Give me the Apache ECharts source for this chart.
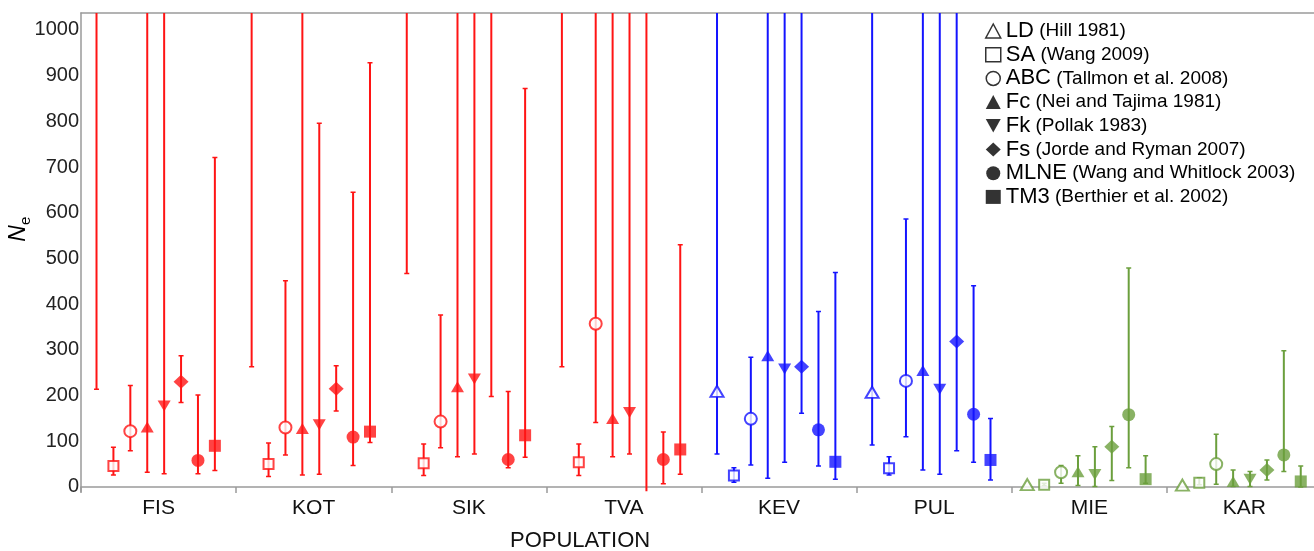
<!DOCTYPE html>
<html>
<head>
<meta charset="utf-8">
<script src="https://cdn.jsdelivr.net/npm/echarts@6/dist/echarts.min.js"></script>
<style>
html,body{margin:0;padding:0;background:#fff;}
#chart{width:1314px;height:551px;}
</style>
</head>
<body>
<div id="chart"></div>
<script>
// ---------- data ----------
const populations = ['FIS', 'KOT', 'SIK', 'TVA', 'KEV', 'PUL', 'MIE', 'KAR'];
const estimators = ['LD', 'SA', 'ABC', 'Fc', 'Fk', 'Fs', 'MLNE', 'TM3'];
const references = ['(Hill 1981)', '(Wang 2009)', '(Tallmon et al. 2008)', '(Nei and Tajima 1981)',
  '(Pollak 1983)', '(Jorde and Ryman 2007)', '(Wang and Whitlock 2003)', '(Berthier et al. 2002)'];
const yTickLabels = [0, 100, 200, 300, 400, 500, 600, 700, 800, 900, 1000];
const OPEN = Infinity; // unbounded confidence limit

// point estimates (one per population), null = not estimable (infinite)
const neLD   = [null, null, null, null, 209, 207, 5, 4];
const neSA   = [46, 50, 52, 54, 25, 41, 5, 9];
const neABC  = [122, 130, 143, 357, 149, 232, 32, 50];
const neFc   = [131, 128, 219, 150, 287, 255, 33, 12];
const neFk   = [177, 136, 236, 163, 258, 214, 27, 17];
const neFs   = [230, 215, null, null, 263, 318, 88, 37];
const neMLNE = [58, 109, 60, 60, 125, 159, 158, 70];
const neTM3  = [90, 121, 113, 82, 55, 59, 17, 12];

// lower 95% CI
const loLD   = [214, 263, 467, 263, 72, 92, null, null];
const loSA   = [26, 23, 25, 25, 10, 26, 3, 5];
const loABC  = [79, 70, 86, 141, 48, 110, 8, 6];
const loFc   = [32, 26, 66, 66, 19, 37, 3, 1];
const loFk   = [29, 28, 72, 72, 54, 28, 1, 1];
const loFs   = [185, 166, 198, -OPEN, 161, 79, 14, 15];
const loMLNE = [29, 47, 42, 7, 46, 54, 42, 34];
const loTM3  = [36, 97, 65, 28, 17, 15, 8, 0];

// upper 95% CI
const hiLD   = [OPEN, OPEN, OPEN, OPEN, OPEN, OPEN, null, null];
const hiSA   = [87, 96, 94, 94, 42, 66, 8, 20];
const hiABC  = [222, 451, 376, OPEN, 284, 586, 47, 115];
const hiFc   = [OPEN, OPEN, OPEN, OPEN, OPEN, OPEN, 68, 37];
const hiFk   = [OPEN, 796, OPEN, OPEN, OPEN, OPEN, 88, 34];
const hiFs   = [287, 265, OPEN, OPEN, OPEN, OPEN, 132, 59];
const hiMLNE = [201, 645, 209, 120, 384, 440, 479, 298];
const hiTM3  = [721, 928, 872, 530, 469, 150, 68, 46];

// ---------- styling / layout ----------
const Y_MIN = -10, Y_MAX = 1037;
const FONT = 'Liberation Sans, Arial, sans-serif';
const groupColor = ['#ff1414', '#ff1414', '#ff1414', '#ff1414', '#1414ff', '#1414ff', '#6b9f3d', '#6b9f3d'];
const slotOffset = k => 0.1 + 0.109 * k;
const ne = [neLD, neSA, neABC, neFc, neFk, neFs, neMLNE, neTM3];
const lo = [loLD, loSA, loABC, loFc, loFk, loFs, loMLNE, loTM3];
const hi = [hiLD, hiSA, hiABC, hiFc, hiFk, hiFs, hiMLNE, hiTM3];
const hollow = [true, true, true, false, false, false, false, false];
const symbols = ['triangle', 'rect', 'circle', 'triangle', 'triangle', 'diamond', 'circle', 'rect'];
const rotates = [0, 0, 0, 0, 180, 0, 0, 0];
const sizes = [[13, 11], [10, 10], [12, 12], [13, 11], [13, 11], [15, 14], [13, 13], [12, 12]];
const legendIcons = ['triangle', 'rect', 'circle', 'triangle', 'path://M0,0 L10,0 L5,9 Z', 'diamond', 'circle', 'rect'];

// error-bar data
const barData = [];
estimators.forEach((e, k) => {
  populations.forEach((p, g) => {
    const l = lo[k][g], h = hi[k][g];
    if (l === null || h === null) return;
    const x = g + slotOffset(k);
    barData.push([x,
      isFinite(l) ? l : Y_MIN,
      isFinite(h) ? h : Y_MAX,
      g,
      isFinite(l) ? 1 : 0,
      isFinite(h) ? 1 : 0]);
  });
});

const scatterSeries = estimators.map((e, k) => ({
  name: e,
  type: 'scatter',
  xAxisIndex: 1,
  z: 3,
  symbol: symbols[k],
  symbolRotate: rotates[k],
  symbolSize: sizes[k],
  data: populations.map((p, g) => {
    const v = ne[k][g];
    if (v === null) return null;
    const c = groupColor[g];
    return {
      value: [g + slotOffset(k), v],
      itemStyle: hollow[k]
        ? { color: '#ffffff', borderColor: c, borderWidth: 2 }
        : { color: c, borderWidth: 0 }
    };
  }).filter(d => d !== null)
}));

const chart = echarts.init(document.getElementById('chart'), null, { renderer: 'canvas' });
chart.setOption({
  animation: false,
  backgroundColor: '#ffffff',
  title: {
    text: 'POPULATION', left: 510, top: 530, padding: 0,
    textStyle: { fontSize: 22, fontWeight: 'normal', color: '#111', fontFamily: FONT }
  },
  grid: { left: 81, right: -8, top: 13, bottom: 59.5, containLabel: false, outerBoundsMode: 'none' },
  legend: {
    orient: 'vertical', left: 985, top: 20, padding: 0,
    itemWidth: 15, itemHeight: 14, itemGap: 1.7,
    selectedMode: false,
    data: estimators.map((e, k) => ({
      name: e,
      icon: legendIcons[k],
      itemStyle: hollow[k]
        ? { color: '#ffffff', borderColor: '#000', borderWidth: 1.5 }
        : { color: '#000', borderWidth: 0 }
    })),
    formatter: name => '{a|' + name + '} {b|' + references[estimators.indexOf(name)] + '}',
    textStyle: {
      fontFamily: FONT, fontSize: 19, color: '#000',
      rich: {
        a: { fontSize: 22, fontFamily: FONT, color: '#000', lineHeight: 22 },
        b: { fontSize: 19, fontFamily: FONT, color: '#000', lineHeight: 22 }
      }
    }
  },
  xAxis: [
    {
      type: 'category', data: populations, position: 'bottom',
      axisLine: { show: true, lineStyle: { color: '#9a9a9a', width: 1.5 } },
      axisTick: { show: true, length: 6, lineStyle: { color: '#9a9a9a', width: 1.5 } },
      axisLabel: { fontSize: 21, color: '#111', fontFamily: FONT, margin: 6 },
      splitLine: { show: false }
    },
    {
      type: 'value', min: 0, max: populations.length, position: 'top',
      axisLine: { show: true, onZero: false, lineStyle: { color: '#9a9a9a', width: 1.5 } },
      axisTick: { show: false }, axisLabel: { show: false }, splitLine: { show: false }
    }
  ],
  yAxis: {
    type: 'value', min: Y_MIN, max: Y_MAX,
    name: '{n|N}{e|e}', nameLocation: 'middle', nameGap: 48, nameRotate: 90,
    nameMoveOverlap: false,
    nameTextStyle: {
      padding: [0, 0, 0, 46],
      rich: {
        n: { fontSize: 23, fontStyle: 'italic', color: '#000', fontFamily: FONT, lineHeight: 28, verticalAlign: 'middle' },
        e: { fontSize: 15, color: '#000', fontFamily: FONT, lineHeight: 28, verticalAlign: 'bottom' }
      }
    },
    axisLine: { show: true, onZero: false, lineStyle: { color: '#9a9a9a', width: 1.5 } },
    axisTick: { show: false },
    axisLabel: { customValues: yTickLabels, formatter: v => String(v), fontSize: 20, color: '#222', fontFamily: FONT, margin: 2 },
    splitLine: { show: false }
  },
  series: [
    {
      name: 'CI', type: 'custom', xAxisIndex: 1, z: 2, clip: true,
      data: barData,
      encode: { x: 0, y: [1, 2] },
      renderItem: (params, api) => {
        const x = api.value(0);
        const p1 = api.coord([x, api.value(1)]);
        const p2 = api.coord([x, api.value(2)]);
        const c = groupColor[api.value(3)];
        const children = [{
          type: 'line', shape: { x1: p1[0], y1: p1[1], x2: p2[0], y2: p2[1] },
          style: { stroke: c, lineWidth: 2 }
        }];
        if (api.value(4)) children.push({ type: 'line', shape: { x1: p1[0] - 2.5, y1: p1[1], x2: p1[0] + 2.5, y2: p1[1] }, style: { stroke: c, lineWidth: 1.5 } });
        if (api.value(5)) children.push({ type: 'line', shape: { x1: p2[0] - 2.5, y1: p2[1], x2: p2[0] + 2.5, y2: p2[1] }, style: { stroke: c, lineWidth: 1.5 } });
        return { type: 'group', children };
      }
    }
  ].concat(scatterSeries)
});
</script>
</body>
</html>
